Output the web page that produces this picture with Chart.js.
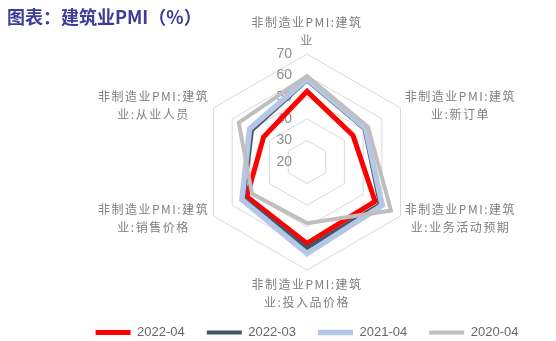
<!DOCTYPE html>
<html>
<head>
<meta charset="utf-8">
<script src="https://cdn.jsdelivr.net/npm/chart.js@4.4.1/dist/chart.umd.min.js"></script>
<style>
  html, body { margin: 0; padding: 0; background: #fff; overflow: hidden; }
</style>
</head>
<body>
<canvas id="pmiChart" width="556" height="341"></canvas>
<script>
// 非制造业PMI 建筑业分项，每个分项名拆成两行
const categories = [
  ['非制造业PMI:建筑', '业'],
  ['非制造业PMI:建筑', '业:新订单'],
  ['非制造业PMI:建筑', '业:业务活动预期'],
  ['非制造业PMI:建筑', '业:投入品价格'],
  ['非制造业PMI:建筑', '业:销售价格'],
  ['非制造业PMI:建筑', '业:从业人员']
];
const months = ['2022-04', '2022-03', '2021-04', '2020-04'];
const pmi2204 = [52.7, 44.6, 56.4, 57.7, 52.1, 43.2];
const pmi2203 = [57.8, 50.7, 59.0, 59.8, 53.9, 49.4];
const pmi2104 = [58.5, 51.3, 60.2, 62.4, 54.8, 50.7];
const pmi2004 = [59.8, 52.6, 64.9, 48.3, 49.4, 56.5];
const axisMin = 20, axisMax = 70, axisStep = 10;

const colors = ['#ff0000', '#44546a', '#b4c7e7', '#bfbfbf'];
const widths = [5, 4, 5.5, 4];

// 刻度数字放在竖轴左边，分项名围在最外圈外面
const radarText = {
  id: 'radarText',
  beforeDatasetsDraw(chart) {
    const r = chart.scales.r;
    const ctx = chart.ctx;
    ctx.save();
    ctx.font = "14px 'Liberation Sans'";
    ctx.fillStyle = '#8c8c8c';
    ctx.textAlign = 'right';
    ctx.textBaseline = 'middle';
    r.ticks.forEach(t => {
      ctx.fillText(t.label, r.xCenter - 15, r.yCenter - r.getDistanceFromCenterForValue(t.value));
    });
    ctx.restore();
  },
  afterDraw(chart) {
    const r = chart.scales.r;
    const ctx = chart.ctx;
    const lineH = 18, gap = 5;
    ctx.save();
    ctx.font = "12px 'Noto Sans CJK SC'";
    ctx.letterSpacing = '1.5px';
    ctx.fillStyle = '#7f7f7f';
    ctx.textAlign = 'center';
    ctx.textBaseline = 'middle';
    chart.data.labels.forEach((lines, i) => {
      const a = r.getIndexAngle(i);
      const p = r.getPointPosition(i, r.drawingArea + gap);
      const w = Math.max(...lines.map(s => ctx.measureText(s).width));
      const h = lines.length * lineH;
      let cx = p.x, top;
      if (Math.abs(Math.sin(a)) < 0.01) {
        top = Math.cos(a) > 0 ? p.y - h : p.y;
      } else {
        top = p.y - h / 2;
        cx = Math.sin(a) > 0 ? p.x + w / 2 : p.x - w / 2;
      }
      lines.forEach((s, k) => ctx.fillText(s, cx, top + lineH * k + lineH / 2));
    });
    ctx.restore();
  }
};

const series = [pmi2204, pmi2203, pmi2104, pmi2004];

new Chart(document.getElementById('pmiChart'), {
  type: 'radar',
  data: {
    labels: categories,
    datasets: series.map((vals, i) => ({
      label: months[i],
      data: vals,
      borderColor: colors[i],
      backgroundColor: colors[i],
      borderWidth: widths[i],
      borderCapStyle: 'round',
      fill: false,
      pointRadius: 0,
      pointHoverRadius: 0,
      order: series.length - 1 - i
    }))
  },
  options: {
    responsive: false,
    animation: false,
    layout: { padding: { left: 7, right: -51, top: 0, bottom: -8 } },
    plugins: {
      title: {
        display: true,
        text: '图表：建筑业PMI（%）',
        align: 'start',
        color: '#3c3c9a',
        font: { family: "'Noto Sans CJK SC'", size: 18, weight: 'bold' },
        padding: { top: 6, bottom: -7.6 }
      },
      legend: {
        position: 'bottom',
        labels: {
          usePointStyle: true,
          pointStyle: 'line',
          pointStyleWidth: 35,
          padding: 22,
          color: '#666666',
          font: { family: "'Liberation Sans'", size: 13 },
          sort: (a, b) => a.datasetIndex - b.datasetIndex
        }
      },
      tooltip: { enabled: false }
    },
    scales: {
      r: {
        min: axisMin,
        max: axisMax,
        ticks: { stepSize: axisStep, display: false },
        grid: { color: '#d9d9d9', lineWidth: 1 },
        angleLines: { display: false },
        pointLabels: { display: false },
        afterFit(scale) {
          // 外圈留出位置给分项名，雷达图整体偏右
          scale.drawingArea = Math.round(scale.width * 0.197);
          scale.xCenter = Math.round(scale.left + scale.width * 0.546);
        }
      }
    }
  },
  plugins: [radarText]
});
</script>
</body>
</html>
